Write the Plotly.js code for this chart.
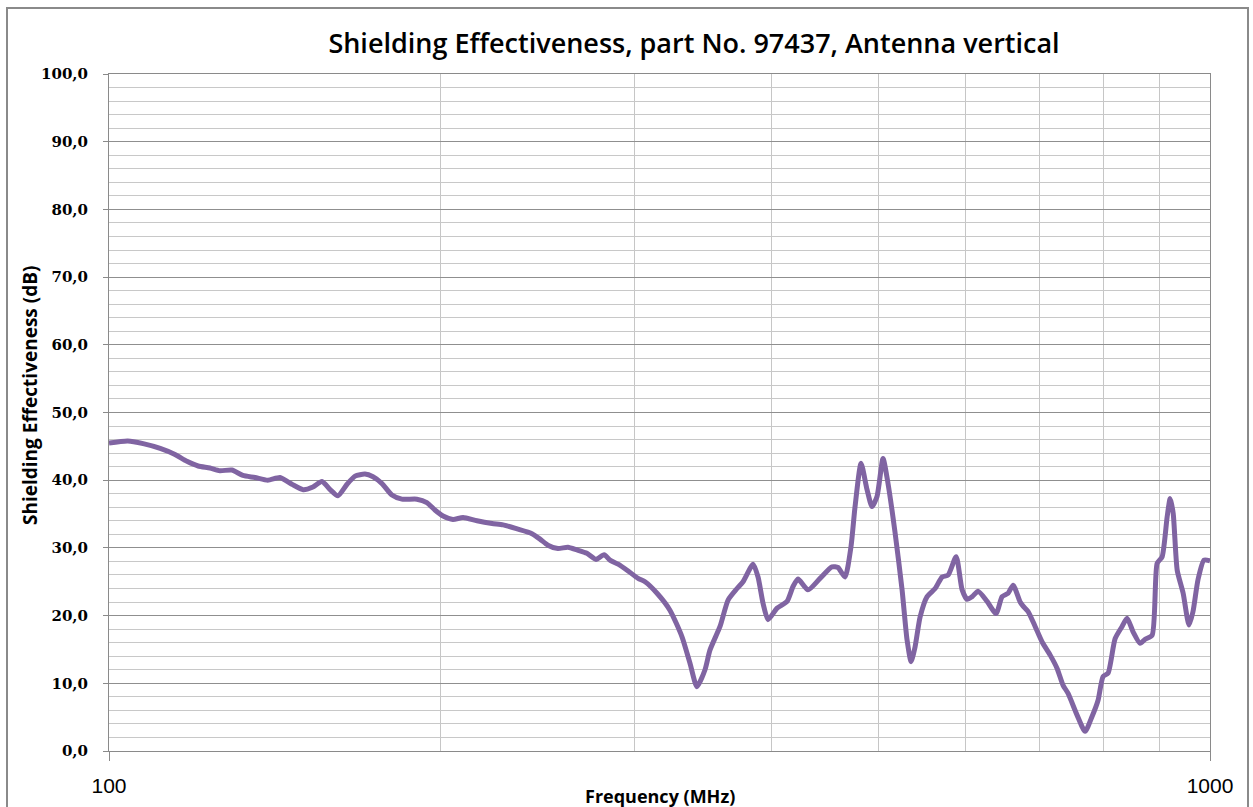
<!DOCTYPE html>
<html>
<head>
<meta charset="utf-8">
<script src="https://cdn.plot.ly/plotly-3.0.1.min.js"></script>
<style>
  html, body { margin: 0; padding: 0; background: #fff; }
  #chart { width: 1253px; height: 807px; position: relative; }
  #frame { position: absolute; left: 6px; top: 7px; width: 1243px; height: 830px;
           border: 2px solid #8a8a8a; pointer-events: none; box-sizing: border-box; }
</style>
</head>
<body>
<div id="chart"></div>
<div id="frame"></div>
<script>
// Frequency in MHz
var frequency = [
  100, 104.0, 107.4, 111.3, 114.8, 117.7, 120.5, 123.5, 126.1, 129.3,
  132.3, 135.7, 139.4, 143.0, 146.6, 150.1, 153.2, 156.1, 158.8, 161.4,
  164.5, 167.3, 170.8, 173.7, 177.0, 180.7, 184.5, 190.4, 194.4, 197.7,
  201.1, 205.3, 209.7, 215.9, 222.8, 228.0, 234.8, 242.2, 246.3, 250.4,
  255.7, 261.1, 266.1, 271.7, 276.9, 281.6, 285.1, 290.0, 295.5, 302.4,
  306.8, 314.6, 323.2, 331.4, 337.0, 342.0, 347.8, 351.4, 358.9, 365.0,
  371.9, 376.6, 384.6, 388.6, 392.7, 396.8, 404.4, 412.9, 418.1, 422.5,
  431.4, 442.4, 453.6, 459.3, 466.1, 472.0, 476.0, 482.0, 488.1, 493.2,
  498.4, 504.7, 510.0, 517.6, 525.2, 530.7, 535.2, 539.7, 545.4, 553.4,
  562.8, 571.1, 578.3, 588.1, 595.5, 601.7, 608.1, 615.7, 627.4, 639.3,
  647.4, 655.6, 662.5, 672.3, 676.5, 683.6, 693.7, 703.9, 715.7, 726.3,
  735.5, 743.2, 757.3, 770.1, 781.4, 791.3, 799.6, 808.0, 820.0, 832.1,
  840.8, 851.4, 864.0, 873.1, 886.0, 895.3, 904.8, 914.3, 920.1, 925.9,
  933.7, 945.4, 957.0, 965.1, 975.2, 987.5, 1000
];
// Shielding effectiveness in dB
var shielding = [
  45.5, 45.8, 45.4, 44.7, 43.8, 42.8, 42.1, 41.8, 41.4, 41.5,
  40.7, 40.4, 40.0, 40.4, 39.4, 38.6, 39.0, 39.8, 38.6, 37.7,
  39.4, 40.6, 40.9, 40.5, 39.5, 37.8, 37.2, 37.2, 36.7, 35.6,
  34.7, 34.2, 34.5, 34.0, 33.6, 33.4, 32.8, 32.1, 31.3, 30.4,
  29.9, 30.1, 29.7, 29.2, 28.3, 29.0, 28.2, 27.6, 26.7, 25.5,
  25.0, 23.3, 20.8, 16.9, 13.0, 9.5, 12.0, 14.9, 18.4, 22.3,
  24.0, 25.0, 27.6, 25.7, 21.8, 19.4, 21.1, 22.1, 24.3, 25.4,
  23.8, 25.5, 27.2, 27.1, 25.7, 30.2, 36.1, 42.5, 38.6, 36.1,
  37.6, 43.2, 39.5, 32.2, 23.8, 16.4, 13.2, 15.4, 19.8, 22.8,
  24.0, 25.7, 26.0, 28.7, 23.8, 22.4, 22.8, 23.6, 22.1, 20.3,
  22.8, 23.3, 24.5, 22.0, 21.4, 20.6, 18.4, 16.1, 14.2, 12.2,
  9.7, 8.5, 5.3, 2.9, 5.1, 7.5, 11.0, 11.5, 16.6, 18.4,
  19.6, 17.6, 15.9, 16.5, 17.1, 27.7, 28.7, 34.6, 37.3, 35.1,
  26.7, 23.3, 18.6, 20.6, 25.3, 28.2, 28.1
];

var xTickVals = [100, 1000];
var xTickText = ["100", "1000"];
var xGridVals = [200, 300, 400, 500, 600, 700, 800, 900];

var chartTitle = "Shielding Effectiveness, part No. 97437, Antenna vertical";
var xTitle = "Frequency (MHz)";
var yTitle = "Shielding Effectiveness (dB)";

var trace = {
  x: frequency,
  y: shielding,
  type: "scatter",
  mode: "lines",
  line: { color: "#8064A2", width: 5, shape: "spline", smoothing: 0.6 },
  hoverinfo: "x+y"
};

var layout = {
  width: 1253,
  height: 807,
  paper_bgcolor: "#ffffff",
  plot_bgcolor: "#ffffff",
  separators: ",.",
  showlegend: false,
  margin: { l: 109, r: 43, t: 74, b: 56, pad: 0 },
  title: {
    text: chartTitle,
    font: { family: "Open Sans, Noto Sans, sans-serif", size: 27, color: "#000000", weight: 600 },
    x: 694 / 1253, xanchor: "center", xref: "container",
    y: 1 - 44 / 807, yanchor: "middle", yref: "container"
  },
  xaxis: {
    type: "log",
    range: [2, 3],
    tickmode: "array",
    tickvals: xTickVals,
    ticktext: xTickText,
    ticks: "outside",
    ticklen: 9,
    tickcolor: "#8a8a8a",
    ticklabelstandoff: 7,
    tickfont: { family: "Liberation Sans, Arial, sans-serif", size: 21, color: "#000000" },
    showgrid: false,
    minor: { tickmode: "array", tickvals: xGridVals, showgrid: true, gridcolor: "#c6c6c6", gridwidth: 1, ticks: "" },
    showline: true,
    linecolor: "#8a8a8a",
    linewidth: 1,
    mirror: true,
    zeroline: false,
    fixedrange: true
  },
  yaxis: {
    range: [0, 100],
    tickmode: "linear",
    tick0: 0,
    dtick: 10,
    tickformat: ".1f",
    ticks: "outside",
    ticklen: 5,
    tickcolor: "#8a8a8a",
    ticklabelstandoff: 12,
    tickfont: { family: "DejaVu Serif, serif", size: 15, color: "#000000", weight: "bold" },
    showgrid: true,
    gridcolor: "#8f8f8f",
    gridwidth: 1,
    minor: { dtick: 2, showgrid: true, gridcolor: "#c8c8c8", gridwidth: 1, ticks: "" },
    showline: true,
    linecolor: "#8a8a8a",
    linewidth: 1,
    mirror: true,
    zeroline: false,
    fixedrange: true
  },
  annotations: [
    {
      text: xTitle, showarrow: false,
      xref: "paper", x: 0.5, xanchor: "center",
      yref: "paper", y: -(796 - 751) / 677, yanchor: "middle",
      font: { family: "Open Sans, Noto Sans, sans-serif", size: 18, color: "#000000", weight: "bold" }
    },
    {
      text: yTitle, showarrow: false, textangle: -90,
      xref: "paper", x: (30 - 109) / 1101, xanchor: "center",
      yref: "paper", y: (751 - 396) / 677, yanchor: "middle",
      font: { family: "Open Sans, Noto Sans, sans-serif", size: 19, color: "#000000", weight: "bold" }
    }
  ]
};

Plotly.newPlot("chart", [trace], layout, { displayModeBar: false, staticPlot: false });
</script>
</body>
</html>
